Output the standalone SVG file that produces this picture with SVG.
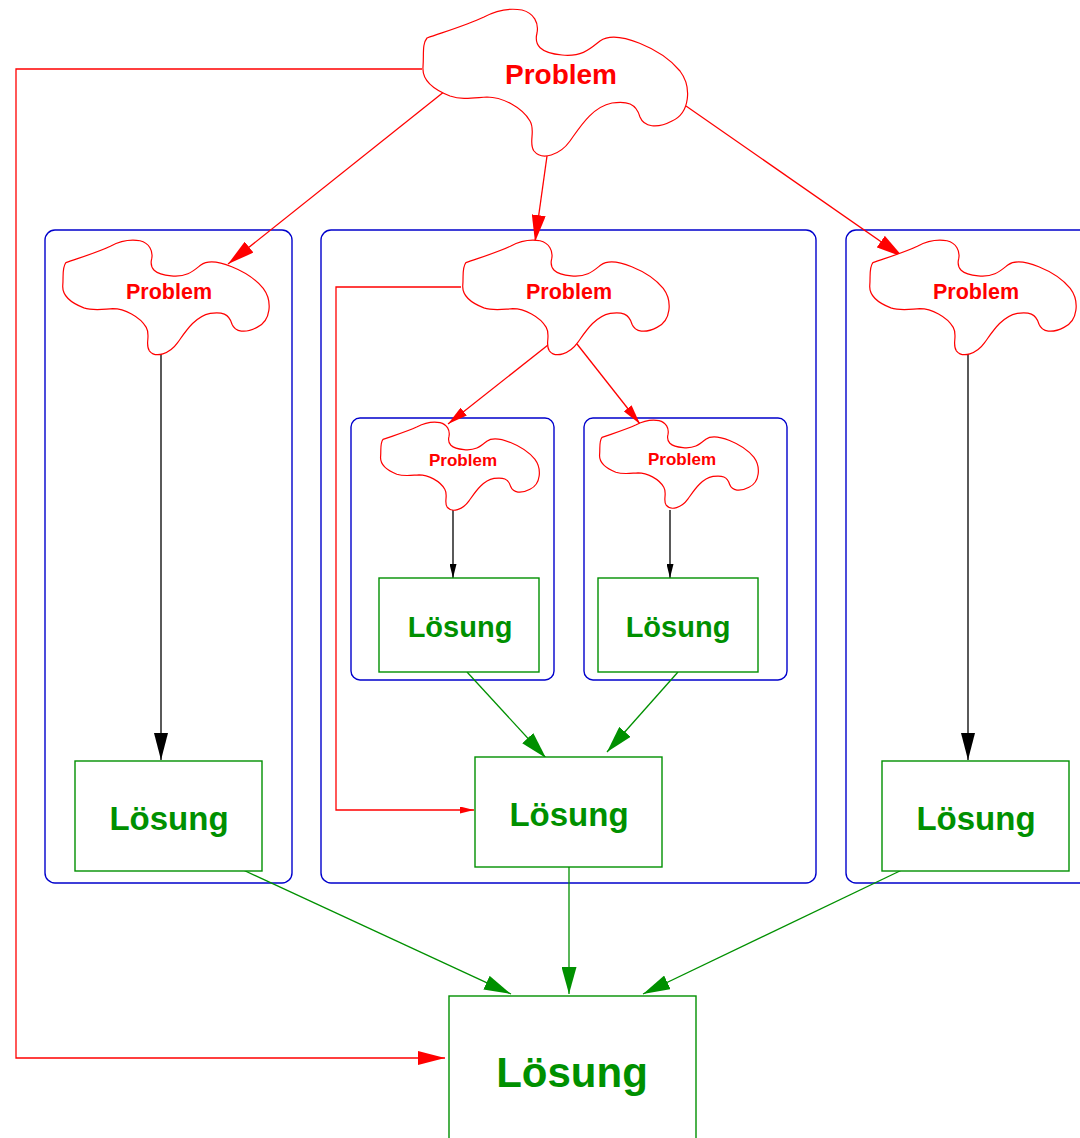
<svg xmlns="http://www.w3.org/2000/svg" width="1080" height="1138" viewBox="0 0 1080 1138">
<style>
.cloud{fill:#ffffff;stroke:#ff0000;stroke-width:1.2;}
.cont{fill:none;stroke:#0000cc;stroke-width:1.4;}
.box{fill:#ffffff;stroke:#009000;stroke-width:1.4;}
.pt{font-family:"Liberation Sans",Arial,sans-serif;font-weight:bold;fill:#ff0000;text-anchor:middle;}
.lt{font-family:"Liberation Sans",Arial,sans-serif;font-weight:bold;fill:#009000;text-anchor:middle;}
.red{fill:none;stroke:#ff0000;stroke-width:1.3;}
.blk{fill:none;stroke:#000000;stroke-width:1.3;}
.grn{fill:none;stroke:#009000;stroke-width:1.3;}
</style>
<defs>
<path id="cl" vector-effect="non-scaling-stroke" d="M5,29 C25,22 45,16 62,8 C75,1 88,-1 100,1 C112,4 117,14 115,24 C112,36 118,44 140,46 C160,48 168,40 178,32 C195,20 240,40 258,62 C270,78 268,104 250,112 C235,120 222,118 218,108 C214,94 205,92 190,94 C170,98 158,118 148,132 C138,146 120,152 112,142 C106,134 114,122 108,112 C100,98 80,88 65,88 C50,89 40,91 28,87 C10,80 0,70 1,58 C2,45 0,35 5,29 Z"/>
<marker id="rL" markerUnits="userSpaceOnUse" markerWidth="27" markerHeight="14" refX="27" refY="7" orient="auto"><path d="M0,0 L27,7 L0,14 Z" fill="#ff0000"/></marker>
<marker id="rM" markerUnits="userSpaceOnUse" markerWidth="20" markerHeight="10" refX="20" refY="5" orient="auto"><path d="M0,0 L20,5 L0,10 Z" fill="#ff0000"/></marker>
<marker id="rS" markerUnits="userSpaceOnUse" markerWidth="14" markerHeight="7" refX="14" refY="3.5" orient="auto"><path d="M0,0 L14,3.5 L0,7 Z" fill="#ff0000"/></marker>
<marker id="kL" markerUnits="userSpaceOnUse" markerWidth="27" markerHeight="14" refX="27" refY="7" orient="auto"><path d="M0,0 L27,7 L0,14 Z" fill="#000000"/></marker>
<marker id="kS" markerUnits="userSpaceOnUse" markerWidth="14" markerHeight="7" refX="14" refY="3.5" orient="auto"><path d="M0,0 L14,3.5 L0,7 Z" fill="#000000"/></marker>
<marker id="gL" markerUnits="userSpaceOnUse" markerWidth="27" markerHeight="15" refX="27" refY="7.5" orient="auto"><path d="M0,0 L27,7.5 L0,15 Z" fill="#009000"/></marker>
</defs>

<g id="containers">
<rect id="cont-left" class="cont" x="45" y="230" width="247" height="653" rx="10"/>
<rect id="cont-mid" class="cont" x="321" y="230" width="495" height="653" rx="10"/>
<rect id="cont-right" class="cont" x="846" y="230" width="260" height="653" rx="10"/>
<rect id="cont-inner-left" class="cont" x="351" y="418" width="203" height="262" rx="9"/>
<rect id="cont-inner-right" class="cont" x="584" y="418" width="203" height="262" rx="9"/>
</g>

<g id="connectors">
<path class="red" d="M422,69 H16 V1058 H445" marker-end="url(#rL)"/>
<path class="red" d="M445,91 L228,264" marker-end="url(#rL)"/>
<path class="red" d="M547,156 L535,242" marker-end="url(#rL)"/>
<path class="red" d="M686,106 L903,257" marker-end="url(#rL)"/>
<path class="red" d="M461,287 H336 V810 H474" marker-end="url(#rS)"/>
<path class="red" d="M548,345 L448,424" marker-end="url(#rM)"/>
<path class="red" d="M577,344 L640,424" marker-end="url(#rM)"/>
<path class="blk" d="M161,354 V760" marker-end="url(#kL)"/>
<path class="blk" d="M968,354 V760" marker-end="url(#kL)"/>
<path class="blk" d="M453,507 V578" marker-end="url(#kS)"/>
<path class="blk" d="M670,510 V578" marker-end="url(#kS)"/>
<path class="grn" d="M467,672 L546,758" marker-end="url(#gL)"/>
<path class="grn" d="M678,672 L607,752" marker-end="url(#gL)"/>
<path class="grn" d="M241,869 L511,994" marker-end="url(#gL)"/>
<path class="grn" d="M569,867 V994" marker-end="url(#gL)"/>
<path class="grn" d="M904,869 L643,994" marker-end="url(#gL)"/>
</g>

<g id="problem-top">
<use href="#cl" class="cloud" transform="translate(422,9)"/>
<text class="pt" x="561" y="84" font-size="28">Problem</text>
</g>
<g id="problem-left">
<use href="#cl" class="cloud" transform="translate(62,240) scale(0.78)"/>
<text class="pt" x="169" y="299" font-size="21.5">Problem</text>
</g>
<g id="problem-mid">
<use href="#cl" class="cloud" transform="translate(462,240) scale(0.78)"/>
<text class="pt" x="569" y="299" font-size="21.5">Problem</text>
</g>
<g id="problem-right">
<use href="#cl" class="cloud" transform="translate(869,240) scale(0.78)"/>
<text class="pt" x="976" y="299" font-size="21.5">Problem</text>
</g>
<g id="problem-inner-left">
<use href="#cl" class="cloud" transform="translate(380,422) scale(0.6)"/>
<text class="pt" x="463" y="466" font-size="17">Problem</text>
</g>
<g id="problem-inner-right">
<use href="#cl" class="cloud" transform="translate(599,420) scale(0.6)"/>
<text class="pt" x="682" y="465" font-size="17">Problem</text>
</g>

<g id="loesung-left">
<rect class="box" x="75" y="761" width="187" height="110"/>
<text class="lt" x="169" y="830" font-size="33">Lösung</text>
</g>
<g id="loesung-mid">
<rect class="box" x="475" y="757" width="187" height="110"/>
<text class="lt" x="569" y="826" font-size="33">Lösung</text>
</g>
<g id="loesung-right">
<rect class="box" x="882" y="761" width="187" height="110"/>
<text class="lt" x="976" y="830" font-size="33">Lösung</text>
</g>
<g id="loesung-inner-left">
<rect class="box" x="379" y="578" width="160" height="94"/>
<text class="lt" x="460" y="637" font-size="29">Lösung</text>
</g>
<g id="loesung-inner-right">
<rect class="box" x="598" y="578" width="160" height="94"/>
<text class="lt" x="678" y="637" font-size="29">Lösung</text>
</g>
<g id="loesung-bottom">
<rect class="box" x="449" y="996" width="247" height="160"/>
<text class="lt" x="572" y="1087" font-size="42">Lösung</text>
</g>
</svg>
